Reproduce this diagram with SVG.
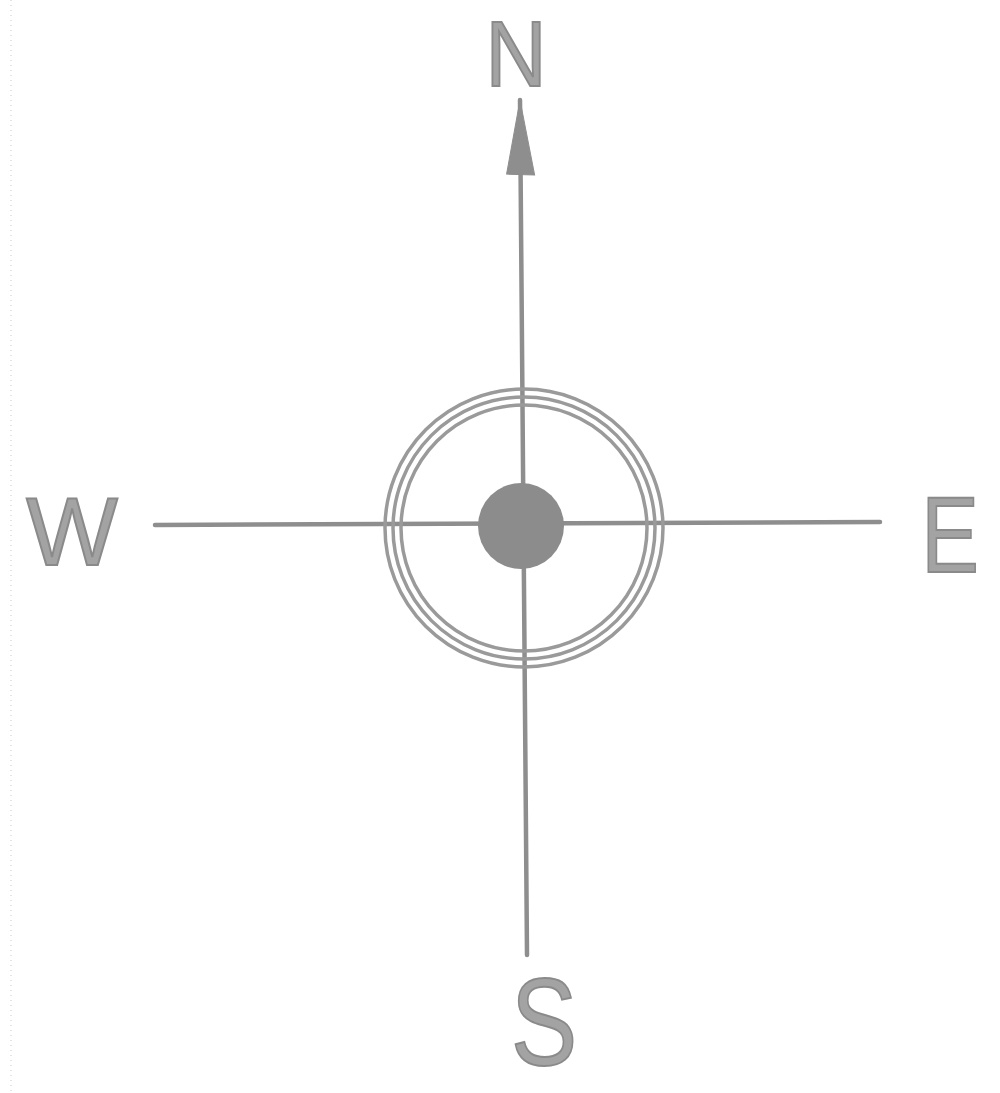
<svg xmlns="http://www.w3.org/2000/svg" width="1000" height="1093" viewBox="0 0 1000 1093">
  <style>
    .ln { stroke: #8e8e8e; stroke-width: 4.5; fill: none; stroke-linecap: round; }
    .ring { stroke: #9a9a9a; stroke-width: 3.5; fill: none; }
    .lbl { font-family: "Liberation Sans", Arial, sans-serif; fill: #a3a3a3; stroke: #8a8a8a; stroke-width: 2; }
  </style>
  <defs>
    <marker id="arrow" viewBox="0 0 78 30" refX="76" refY="15" markerWidth="78" markerHeight="30" markerUnits="userSpaceOnUse" orient="auto">
      <path d="M76 15 L2 1 L1 29 Z" fill="#8e8e8e" stroke="#8e8e8e" stroke-width="1"/>
    </marker>
  </defs>
  <rect width="1000" height="1093" fill="#ffffff"/>
  <line x1="11" y1="0" x2="11" y2="1093" stroke="#c8c8c8" stroke-width="1" stroke-dasharray="1 4"/>

  <g id="connectors">
    <line class="ln" x1="527" y1="955" x2="520" y2="100" marker-end="url(#arrow)"/>
    <line class="ln" x1="155" y1="525" x2="880" y2="522"/>
  </g>

  <g id="center">
    <circle class="ring" cx="524" cy="528" r="139"/>
    <circle class="ring" cx="524" cy="528" r="131"/>
    <circle class="ring" cx="524" cy="528" r="123"/>
    <circle cx="521" cy="526" r="43" fill="#8c8c8c"/>
  </g>

  <g id="N">
    <text class="lbl" x="516" y="86" font-size="92" text-anchor="middle" transform="translate(516 0) scale(0.92 1) translate(-516 0)">N</text>
  </g>
  <g id="W">
    <text class="lbl" x="72" y="565" font-size="97" text-anchor="middle">W</text>
  </g>
  <g id="E">
    <text class="lbl" x="950" y="572" font-size="108" text-anchor="middle" transform="translate(950 0) scale(0.8 1) translate(-950 0)">E</text>
  </g>
  <g id="S">
    <text class="lbl" x="544" y="1065" font-size="124" text-anchor="middle" transform="translate(544 0) scale(0.8 1) translate(-544 0)">S</text>
  </g>
</svg>
